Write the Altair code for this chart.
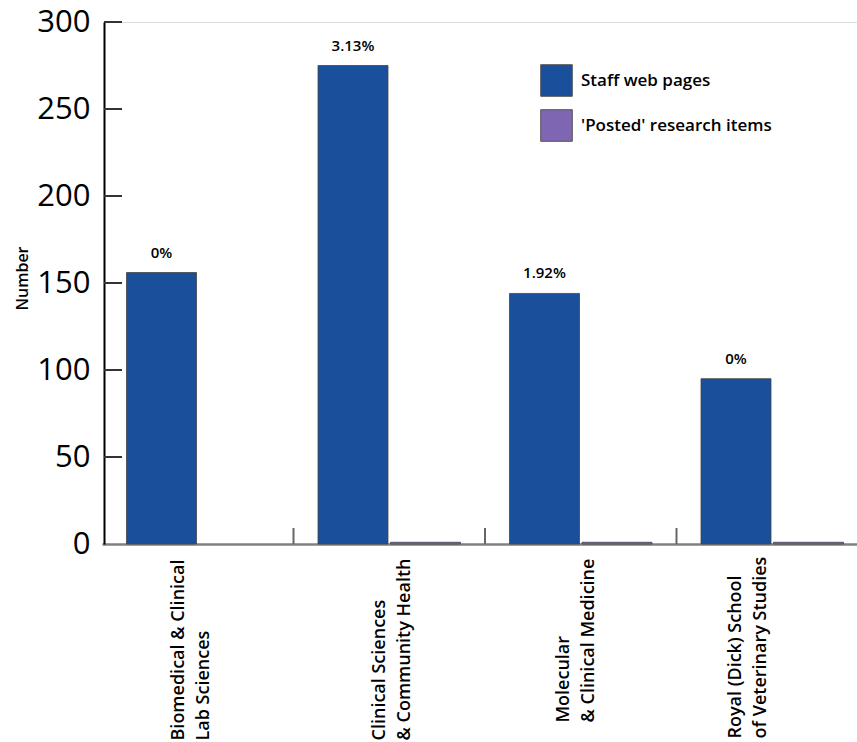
import altair as alt
import pandas as pd

categories = [
    "Biomedical & Clinical|Lab Sciences",
    "Clinical Sciences|& Community Health",
    "Molecular|& Clinical Medicine",
    "Royal (Dick) School|of Veterinary Studies",
]
series = ["Staff web pages", "'Posted' research items"]
staff_pages = [156, 275, 144, 95]
posted_items = [0, 1, 1, 1]
pct_labels = ["0%", "3.13%", "1.92%", "0%"]
y_ticks = [50, 100, 150, 200, 250, 300]
colors = ["#1a4f9b", "#7f66b2"]
label_offsets = [-19, -9, -17, -36]
label_paddings = [196, 196, 178, 194]

rows = []
for c, s, p, t in zip(categories, staff_pages, posted_items, pct_labels):
    rows.append({"cat": c, "series": series[0], "value": s, "pct": t})
    rows.append({"cat": c, "series": series[1], "value": p, "pct": ""})
df = pd.DataFrame(rows)
df_text = df[df["series"] == series[0]]
df_yt = pd.DataFrame({"v": y_ticks})
df_xt = pd.DataFrame({"cat": categories[1:]})

W, H = 753, 522
FONT = "Open Sans"


def per_label(vals):
    return {
        "condition": [
            {"test": f"datum.value == '{c}'", "value": v}
            for c, v in zip(categories[1:], vals[1:])
        ],
        "value": vals[0],
    }


xscale = alt.Scale(domain=categories, range=[-2, 764], paddingInner=0, paddingOuter=0)
xoff = alt.Scale(domain=series, paddingInner=0.0345, paddingOuter=0.338)
yscale = alt.Scale(domain=[0, 300], nice=False)

x_enc = alt.X(
    "cat:N",
    scale=xscale,
    sort=categories,
    axis=alt.Axis(
        title=None,
        labelAngle=270,
        labelAlign="left",
        labelBaseline="middle",
        labelExpr="split(datum.label, '|')",
        labelFont=FONT,
        labelFontSize=18,
        labelFontWeight=600,
        labelColor="#000",
        labelLineHeight=25,
        labelPadding=per_label(label_paddings),
        labelOffset=per_label(label_offsets),
        labelLimit=400,
        labelOverlap=False,
        ticks=False,
        domainColor="#808080",
        domainWidth=2.5,
    ),
)

bars = alt.Chart(df).mark_bar(stroke="#444", strokeWidth=0.8).encode(
    x=x_enc,
    xOffset=alt.XOffset("series:N", scale=xoff, sort=series),
    y=alt.Y(
        "value:Q",
        scale=yscale,
        axis=alt.Axis(
            title="Number",
            values=y_ticks + [0],
            ticks=False,
            grid=False,
            labelFont=FONT,
            labelFontSize=31,
            labelColor="#000",
            labelPadding=14,
            domainColor="#000",
            domainWidth=2,
            titleFont=FONT,
            titleFontSize=16,
            titleFontWeight=600,
            titleColor="#000",
            titlePadding=6,
            titleY=256,
        ),
    ),
    color=alt.Color(
        "series:N",
        scale=alt.Scale(domain=series, range=colors),
        sort=series,
        legend=alt.Legend(
            title=None,
            orient="none",
            legendX=436,
            legendY=42,
            symbolType="square",
            symbolSize=1000,
            symbolStrokeColor="#555",
            symbolStrokeWidth=1,
            labelFont=FONT,
            labelFontSize=17,
            labelFontWeight=600,
            labelColor="#000",
            labelOffset=8,
            labelLimit=400,
            rowPadding=8,
            padding=0,
        ),
    ),
    strokeOpacity=alt.condition("datum.value > 0", alt.value(1), alt.value(0)),
)

texts = alt.Chart(df_text).mark_text(
    baseline="bottom", dy=-12, font=FONT, fontSize=15, fontWeight=600, color="#000"
).encode(
    x=alt.X("cat:N", scale=xscale, sort=categories),
    xOffset=alt.XOffset("series:N", scale=xoff, sort=series),
    y=alt.Y("value:Q", scale=yscale),
    text="pct:N",
)

yticks = alt.Chart(df_yt).mark_rule(color="#333", strokeWidth=2).encode(
    y=alt.Y("v:Q", scale=yscale),
    x=alt.value(0),
    x2=alt.value(18),
)

xticks = alt.Chart(df_xt).mark_rule(color="#666", strokeWidth=2).encode(
    x=alt.X("cat:N", scale=xscale, sort=categories, bandPosition=0),
    y=alt.value(H),
    y2=alt.value(H - 16),
)

chart = (
    alt.layer(bars, texts, yticks, xticks)
    .properties(
        width=W,
        height=H,
        autosize=alt.AutoSizeParams(type="none"),
        padding={"left": 104, "top": 22, "right": 0, "bottom": 198},
    )
    .configure_view(stroke=None)
    .configure(background="white")
)

chart.save("out.html", embed_options={"renderer": "svg", "actions": False})
